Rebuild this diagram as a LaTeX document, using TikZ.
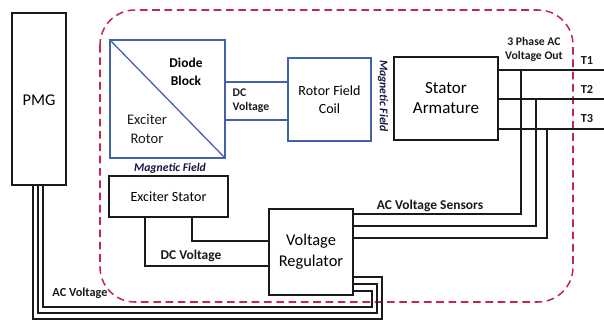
\documentclass[tikz,border=0pt]{standalone}
\usepackage{fontspec}
\setmainfont{Carlito}
\definecolor{bblue}{HTML}{4262AE}
\definecolor{dred}{HTML}{C42848}
\definecolor{ink}{HTML}{1A1A1A}
\begin{document}
\begin{tikzpicture}[x=0.03cm,y=-0.03cm,
  blk/.style={draw=ink,line width=1.3pt,align=center,inner sep=0pt,font=\fontsize{12}{14}\selectfont},
  bbox/.style={draw=bblue,line width=1.1pt,align=center,inner sep=0pt,font=\fontsize{12}{14}\selectfont},
  wire/.style={draw=ink,line width=1.3pt},
  bwire/.style={draw=bblue,line width=1.1pt},
  lab/.style={font=\bfseries\fontsize{10.5}{12}\selectfont,align=center,inner sep=0pt,text=ink},
  slab/.style={font=\bfseries\fontsize{10}{12}\selectfont,align=center,inner sep=0pt,text=ink},
  mag/.style={font=\bfseries\itshape\fontsize{10}{12}\selectfont,inner sep=0pt,text=ink!80!blue}
]
\useasboundingbox (0,0) rectangle (604,322);
% enclosure
\draw[dred,line width=1.3pt,dash pattern=on 6.5pt off 4pt,rounded corners=1.05cm] (100,10) rectangle (573,302);
% boxes
\node[blk,minimum width=54*0.03cm,minimum height=172*0.03cm] (pmg) at (39,99) {};
\node[font=\fontsize{14}{16}\selectfont] (pmgt) at (39,100) {PMG};
\node[bbox,minimum width=115*0.03cm,minimum height=118*0.03cm] (rotor) at (167.5,99) {};
\node[font=\fontsize{12.5}{16}\selectfont,align=center,text=ink] (rotort) at (147,129) {Exciter\\Rotor};
\node[font=\bfseries\fontsize{11.5}{15}\selectfont,align=center,text=black] (diode) at (186,72) {Diode\\Block};
\node[bbox,minimum width=83*0.03cm,minimum height=83*0.03cm,font=\fontsize{12}{15}\selectfont] (rfc) at (329.5,99.5) {Rotor Field\\Coil};
\node[blk,minimum width=104*0.03cm,minimum height=83*0.03cm,font=\fontsize{14.5}{17}\selectfont] (stator) at (446,98.5) {Stator\\Armature};
\node[blk,minimum width=119*0.03cm,minimum height=41*0.03cm,font=\fontsize{12}{14}\selectfont] (exst) at (168.5,196.5) {Exciter Stator};
\node[blk,minimum width=84*0.03cm,minimum height=86*0.03cm,font=\fontsize{14}{18}\selectfont] (vreg) at (311,252) {Voltage\\Regulator};
% labels
\node[slab,align=left] (dcv1) at (251,101) {DC\\Voltage};
\node[mag,rotate=-90] (mag1) at (383,96) {Magnetic Field};
\node[mag] (mag2) at (170,168) {Magnetic Field};
\node[slab] (ph) at (534,49) {3 Phase AC\\Voltage Out};
\node[lab] (lt1) at (587,60) {T1};
\node[lab] (lt2) at (587,89) {T2};
\node[lab] (lt3) at (587,119) {T3};
\node[lab,font=\bfseries\fontsize{11.5}{13}\selectfont] (acs) at (430,206) {AC Voltage Sensors};
\node[lab,font=\bfseries\fontsize{11.5}{13}\selectfont] (dcv2) at (191,256) {DC Voltage};
\node[lab] (acv) at (80,293) {AC Voltage};
% helper coordinates
\coordinate (y82) at (0,82);
\coordinate (y120) at (0,120);
\coordinate (t1) at (604,70);
\coordinate (t2) at (604,99);
\coordinate (t3) at (604,129);
\coordinate (s1) at (521,70);
\coordinate (s2) at (536,99);
\coordinate (s3) at (547,129);
\coordinate (h1) at (0,214);
\coordinate (h2) at (0,226);
\coordinate (h3) at (0,238);
\coordinate (e1) at (145,0);
\coordinate (e2) at (192,0);
\coordinate (g1) at (0,266);
\coordinate (g2) at (0,241);
\coordinate (p1) at (33,0);
\coordinate (p2) at (38,0);
\coordinate (p3) at (43,0);
\coordinate (c1) at (382,319);
\coordinate (c2) at (377,313);
\coordinate (c3) at (372,307);
\coordinate (r1) at (0,277);
\coordinate (r2) at (0,284);
\coordinate (r3) at (0,291);
% rotor internals
\draw[bwire] (rotor.north west) -- (rotor.south east);
\draw[bwire] (rotor.east |- y82) -- (rfc.west |- y82);
\draw[bwire] (rotor.east |- y120) -- (rfc.west |- y120);
% outputs
\draw[wire] (stator.east |- t1) -- (t1);
\draw[wire] (stator.east |- t2) -- (t2);
\draw[wire] (stator.east |- t3) -- (t3);
% sensors
\draw[wire] (s1) |- (vreg.east |- h1);
\draw[wire] (s2) |- (vreg.east |- h2);
\draw[wire] (s3) |- (vreg.east |- h3);
% exciter stator feed
\draw[wire] (exst.south -| e1) |- (vreg.west |- g1);
\draw[wire] (exst.south -| e2) |- (vreg.west |- g2);
% PMG feed
\draw[wire] (pmg.south -| p1) |- (c1) |- (vreg.east |- r1);
\draw[wire] (pmg.south -| p2) |- (c2) |- (vreg.east |- r2);
\draw[wire] (pmg.south -| p3) |- (c3) |- (vreg.east |- r3);
\end{tikzpicture}
\end{document}
